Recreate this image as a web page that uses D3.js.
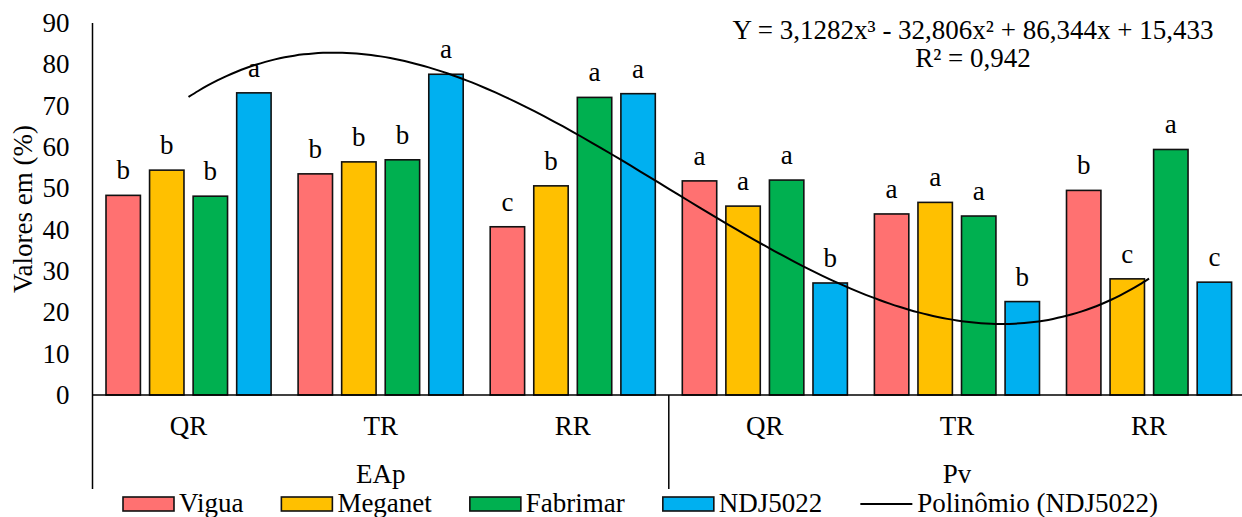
<!DOCTYPE html>
<html>
<head>
<meta charset="utf-8">
<script src="https://cdn.jsdelivr.net/npm/d3@7"></script>
<style>
  body { margin: 0; background: #fff; }
</style>
</head>
<body>
<div id="chart"></div>
<script>
// dados
const especies = ["Vigua", "Meganet", "Fabrimar", "NDJ5022"];
const cores = ["#FF7171", "#FFC000", "#00B050", "#00B0F0"];
const tratamentos = ["QR", "TR", "RR", "QR", "TR", "RR"];
const variaveis = ["EAp", "Pv"];

const vigua    = [48.3, 53.5, 40.7, 51.8, 43.8, 49.5];
const meganet  = [54.4, 56.4, 50.6, 45.7, 46.6, 28.1];
const fabrimar = [48.1, 56.9, 72.0, 52.0, 43.3, 59.4];
const ndj5022  = [73.1, 77.6, 72.9, 27.1, 22.6, 27.3];

const letrasVigua    = ["b", "b", "c", "a", "a", "b"];
const letrasMeganet  = ["b", "b", "b", "a", "a", "c"];
const letrasFabrimar = ["b", "b", "a", "a", "a", "a"];
const letrasNdj      = ["a", "a", "a", "b", "b", "c"];

const yTicks = [0, 10, 20, 30, 40, 50, 60, 70, 80, 90];

// trendline polinomial (NDJ5022), coeficientes da equacao do grafico
const coefPoli = [3.1282, -32.806, 86.344, 15.433];
const equacao = "Y = 3,1282x³ - 32,806x² + 86,344x + 15,433";
const r2 = "R² = 0,942";

const valores = [vigua, meganet, fabrimar, ndj5022];
const letras = [letrasVigua, letrasMeganet, letrasFabrimar, letrasNdj];

const width = 1242, height = 517;
const fonte = "'Liberation Serif', 'DejaVu Serif', serif";
const fs = 27;

const svg = d3.select("#chart").append("svg")
  .attr("width", width).attr("height", height)
  .attr("viewBox", [0, 0, width, height])
  .attr("font-family", fonte)
  .attr("font-size", fs);

const x0 = d3.scaleBand()
  .domain(d3.range(tratamentos.length))
  .range([92.5, 92.5 + 6 * 192.1]);

const x1 = d3.scaleBand()
  .domain(especies)
  .range([0, x0.bandwidth()])
  .paddingInner(0.21)
  .paddingOuter(0.31);

const y = d3.scaleLinear().domain([0, 90]).range([395, 23]);

// eixo Y
const yAxis = svg.append("g")
  .attr("transform", `translate(92.5,0)`)
  .call(d3.axisLeft(y).tickValues(yTicks).tickSize(0).tickPadding(23));
yAxis.attr("font-family", fonte).attr("font-size", fs);
yAxis.select(".domain").remove();
yAxis.selectAll("text").attr("fill", "#000");

svg.append("line")
  .attr("x1", 92.5).attr("x2", 92.5)
  .attr("y1", y(90)).attr("y2", 489)
  .attr("stroke", "#000").attr("stroke-width", 1.5);

svg.append("text")
  .attr("transform", `translate(32,209) rotate(-90)`)
  .attr("text-anchor", "middle")
  .text("Valores em (%)");

// barras
const grupos = svg.append("g").selectAll("g")
  .data(tratamentos)
  .join("g")
  .attr("transform", (d, i) => `translate(${x0(i)},0)`);

especies.forEach((esp, k) => {
  grupos.append("rect")
    .attr("x", x1(esp))
    .attr("width", x1.bandwidth())
    .attr("y", (d, i) => y(valores[k][i]))
    .attr("height", (d, i) => y(0) - y(valores[k][i]))
    .attr("fill", cores[k])
    .attr("stroke", "#111")
    .attr("stroke-width", 1.6);

  grupos.append("text")
    .attr("x", x1(esp) + x1.bandwidth() / 2)
    .attr("y", (d, i) => y(valores[k][i]) - 16)
    .attr("text-anchor", "middle")
    .text((d, i) => letras[k][i]);
});

// eixo X
svg.append("line")
  .attr("x1", 92.5).attr("x2", width)
  .attr("y1", y(0)).attr("y2", y(0))
  .attr("stroke", "#000").attr("stroke-width", 1.5);

svg.append("line")
  .attr("x1", x0(3)).attr("x2", x0(3))
  .attr("y1", y(0)).attr("y2", 489)
  .attr("stroke", "#000").attr("stroke-width", 1.5);

svg.append("g").selectAll("text")
  .data(tratamentos)
  .join("text")
  .attr("x", (d, i) => x0(i) + x0.bandwidth() / 2)
  .attr("y", 435)
  .attr("text-anchor", "middle")
  .text(d => d);

svg.append("g").selectAll("text")
  .data(variaveis)
  .join("text")
  .attr("x", (d, i) => x0(i * 3) + x0.bandwidth() * 1.5)
  .attr("y", 483)
  .attr("text-anchor", "middle")
  .text(d => d);

// linha de tendencia
const xPoli = d3.scaleLinear()
  .domain([1, 6])
  .range([x0(0) + x0.bandwidth() / 2, x0(5) + x0.bandwidth() / 2]);

const poli = t => coefPoli[0] * t * t * t + coefPoli[1] * t * t + coefPoli[2] * t + coefPoli[3];

svg.append("path")
  .datum(d3.range(1, 6.001, 0.05))
  .attr("fill", "none")
  .attr("stroke", "#000")
  .attr("stroke-width", 2)
  .attr("d", d3.line().x(t => xPoli(t)).y(t => y(poli(t))).curve(d3.curveMonotoneX));

svg.append("text")
  .attr("x", 973).attr("y", 39)
  .attr("text-anchor", "middle")
  .text(equacao);
svg.append("text")
  .attr("x", 973).attr("y", 67)
  .attr("text-anchor", "middle")
  .text(r2);

// legenda
const leg = svg.append("g");
let lx = 123;
especies.forEach((esp, k) => {
  leg.append("rect")
    .attr("x", lx).attr("y", 497)
    .attr("width", 51).attr("height", 14)
    .attr("fill", cores[k])
    .attr("stroke", "#111").attr("stroke-width", 1.6);
  const t = leg.append("text")
    .attr("x", lx + 56).attr("y", 512)
    .text(esp);
  lx += 56 + t.node().getComputedTextLength() + 38;
});
leg.append("line")
  .attr("x1", lx).attr("x2", lx + 52)
  .attr("y1", 504).attr("y2", 504)
  .attr("stroke", "#000").attr("stroke-width", 2);
leg.append("text")
  .attr("x", lx + 57).attr("y", 512)
  .text("Polinômio (NDJ5022)");
</script>
</body>
</html>
